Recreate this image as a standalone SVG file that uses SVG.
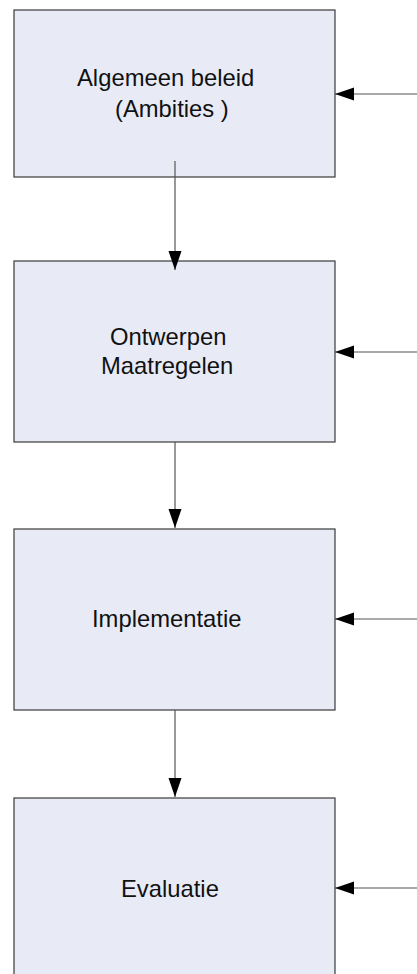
<svg xmlns="http://www.w3.org/2000/svg" width="417" height="974" viewBox="0 0 417 974">
<style>
.box{fill:#e8ebf6;stroke:#3a3a3a;stroke-width:1.2}
.lbl{font-family:"Liberation Sans",Arial,sans-serif;font-size:23.8px;fill:#111}
.con{stroke:#555;stroke-width:1.2;fill:none;marker-end:url(#ah)}
</style>
<defs>
<marker id="ah" markerUnits="userSpaceOnUse" markerWidth="20" markerHeight="14" refX="19" refY="6.5" orient="auto">
<path d="M0,0 L19,6.5 L0,13 z" fill="#000"/>
</marker>
</defs>
<rect width="417" height="974" fill="#fff"/>
<g id="node-algemeen">
<rect class="box" x="14" y="10" width="321" height="167"/>
<text class="lbl" x="77" y="86">Algemeen beleid</text>
<text class="lbl" x="115" y="117">(Ambities )</text>
</g>
<g id="node-ontwerpen">
<rect class="box" x="14" y="261" width="321" height="181"/>
<text class="lbl" x="110" y="345">Ontwerpen</text>
<text class="lbl" x="101" y="374">Maatregelen</text>
</g>
<g id="node-implementatie">
<rect class="box" x="14" y="529" width="321" height="181"/>
<text class="lbl" x="92" y="627">Implementatie</text>
</g>
<g id="node-evaluatie">
<rect class="box" x="14" y="798" width="321" height="190"/>
<text class="lbl" x="121" y="897">Evaluatie</text>
</g>
<g id="connectors">
<line class="con" x1="175" y1="161" x2="175" y2="270"/>
<line class="con" x1="175" y1="442" x2="175" y2="528"/>
<line class="con" x1="175" y1="710" x2="175" y2="797"/>
<line class="con" x1="417" y1="94" x2="335" y2="94"/>
<line class="con" x1="417" y1="352" x2="335" y2="352"/>
<line class="con" x1="417" y1="619" x2="335" y2="619"/>
<line class="con" x1="417" y1="888" x2="335" y2="888"/>
</g>
</svg>
